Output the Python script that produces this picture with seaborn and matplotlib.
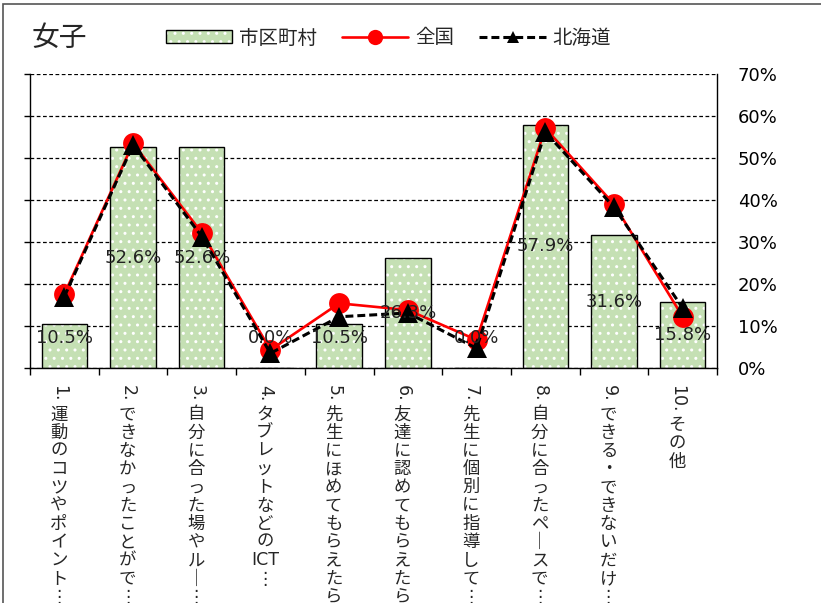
import re
import numpy as np
import matplotlib
matplotlib.use("Agg")
import matplotlib.pyplot as plt
import seaborn as sns
from matplotlib.patches import Patch, Rectangle
from matplotlib.lines import Line2D
from matplotlib.legend_handler import HandlerTuple
from matplotlib.ticker import PercentFormatter

# data (values in %)
categories = [
    "1.運動のコツやポイント…",
    "2.できなかったことがで…",
    "3.自分に合った場やルー…",
    "4.タブレットなどのICT…",
    "5.先生にほめてもらえたら…",
    "6.友達に認めてもらえたら…",
    "7.先生に個別に指導して…",
    "8.自分に合ったペースで…",
    "9.できる・できないだけ…",
    "10.その他",
]
city = [10.5, 52.6, 52.6, 0.0, 10.5, 26.3, 0.0, 57.9, 31.6, 15.8]
national = [17.6, 53.5, 32.2, 4.3, 15.4, 13.8, 6.7, 57.1, 39.0, 12.2]
hokkaido = [17.0, 53.1, 31.3, 3.5, 12.2, 13.1, 4.7, 56.2, 38.3, 14.3]
yticks = [0, 10, 20, 30, 40, 50, 60, 70]
series_names = ["市区町村", "全国", "北海道"]

bar_green = "#C5E0B4"

sns.set_style("white")
plt.rcParams["font.family"] = ["DejaVu Sans", "Noto Sans CJK JP"]
plt.rcParams["hatch.linewidth"] = 1.0

fig = plt.figure(figsize=(8.21, 6.03), dpi=100)
ax = fig.add_axes([30 / 821, 1 - 368 / 603, 687 / 821, 294 / 603])

# bars: green fill with white dots, then black outline on top
sns.barplot(x=categories, y=city, color=bar_green, width=0.66,
            edgecolor="white", linewidth=0, saturation=1, ax=ax, zorder=2)
for p in ax.patches:
    p.set_hatch("..")
    p.set_edgecolor("white")
    p.set_linewidth(0)
sns.barplot(x=categories, y=city, color="black", fill=False, width=0.66,
            linewidth=1.0, ax=ax, zorder=3)

xpos = np.arange(len(categories))
sns.lineplot(x=xpos, y=national, color="red", linewidth=1.9, marker="o",
             markersize=15, markeredgewidth=0, ax=ax, zorder=4)
sns.lineplot(x=xpos, y=hokkaido, color="black", linewidth=2.2,
             linestyle=(0, (2.6, 1.3)), marker="^", markersize=14,
             markeredgewidth=0, ax=ax, zorder=5)

# bar value labels
for i, v in enumerate(city):
    ax.text(i, max(v / 2, 7.2), f"{v:.1f}%", ha="center", va="center",
            fontsize=13, color="#222222", zorder=6)

ax.set_ylim(0, 70)
ax.set_xlim(-0.5, len(categories) - 0.5)
ax.set_yticks(yticks)
ax.yaxis.set_major_formatter(PercentFormatter(decimals=0))
ax.grid(axis="y", color="black", linestyle=(0, (3, 2)), linewidth=0.9)
ax.set_axisbelow(True)
ax.tick_params(axis="y", left=True, right=False, labelleft=False,
               labelright=True, direction="out", length=4, width=1,
               pad=11, labelsize=13, colors="black")
ax.set_xticks(np.arange(-0.5, len(categories), 1))
ax.set_xticklabels([])
ax.tick_params(axis="x", bottom=True, direction="out", length=5, width=1,
               colors="black")
ax.set_xlabel("")
ax.set_ylabel("")
for side in ["left", "right", "bottom"]:
    ax.spines[side].set_color("black")
    ax.spines[side].set_linewidth(1)
ax.spines["top"].set_visible(False)

# vertical category labels: number rotated, text stacked (latin runs kept together)
for i, lab in enumerate(categories):
    num, body = lab.split(".", 1)
    body = body.replace("ー", "｜").replace("…", "⋮")
    pieces = re.findall(r"[A-Za-z]+|.", body)
    num_t = ax.annotate(num + ".", xy=(i, 0), xycoords=("data", "axes fraction"),
                        xytext=(-4, -12), textcoords="offset points",
                        rotation=270, ha="center", va="top", fontsize=12.5)
    ax.annotate("\n".join(pieces), xy=(0.5, 0), xycoords=num_t,
                xytext=(0, -3), textcoords="offset points",
                ha="center", va="top", fontsize=12.5, multialignment="center",
                linespacing=1.02)

# title and legend
fig.text(0.039, 0.937, "女子", fontsize=20, va="center", ha="left")
h_bar = (Patch(facecolor=bar_green, edgecolor="white", hatch="..", linewidth=0),
         Patch(facecolor="none", edgecolor="black", linewidth=1))
h_nat = Line2D([], [], color="red", linewidth=1.9, marker="o", markersize=11,
               markeredgewidth=0)
h_hok = Line2D([], [], color="black", linewidth=2.2, linestyle=(0, (2.6, 1.3)),
               marker="^", markersize=9, markeredgewidth=0)
fig.legend([h_bar, h_nat, h_hok], series_names, loc="center left",
           bbox_to_anchor=(0.181, 0.937), ncol=3, frameon=False, fontsize=14,
           handlelength=3.4, handletextpad=0.35, columnspacing=1.3,
           handler_map={tuple: HandlerTuple(ndivide=1, pad=0)})

# outer chart frame
fig.add_artist(Rectangle((0.004, -0.05), 1.1, 1.044, transform=fig.transFigure,
                         fill=False, edgecolor="#555555", linewidth=1.2))

fig.savefig("out.png", dpi=100)
